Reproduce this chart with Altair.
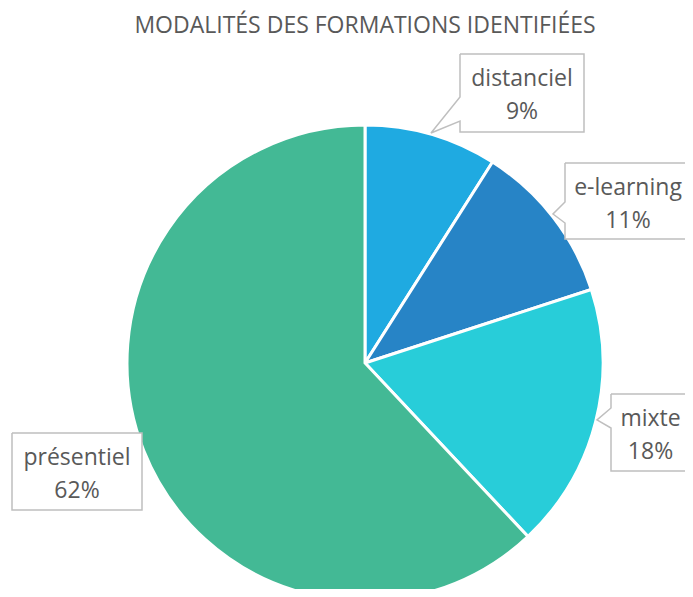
import altair as alt
import pandas as pd

# ---- data ----
categories = ["distanciel", "e-learning", "mixte", "présentiel"]
values = [9, 11, 18, 62]
colors = ["#1FAAE1", "#2784C6", "#28CDD9", "#43B995"]
title_text = "MODALITÉS DES FORMATIONS IDENTIFIÉES"

# ---- layout (chart pixel coordinates) ----
W, H = 677, 581
CX, CY, R = 357, 355, 238
# callout boxes: x0, y0, x1, y1 and pointer (upper base y, tip x, tip y, lower base y) on left edge
boxes = {
    "distanciel": (452, 46, 576, 124, (89, 423, 125, 113)),
    "e-learning": (557, 155, 683, 231, (194, 545, 206, 215)),
    "mixte": (603, 386, 682, 463, (400, 589, 412, 420)),
    "présentiel": (4, 425, 134, 502, None),
}
FONT = "Open Sans"
TXT = "#595959"

pie_df = pd.DataFrame({"cat": categories, "val": values, "ord": range(len(categories))})

pie = alt.Chart(pie_df).mark_arc(radius=R, stroke="white", strokeWidth=3).encode(
    theta=alt.Theta("val:Q", stack=True),
    order=alt.Order("ord:Q"),
    color=alt.Color("cat:N", scale=alt.Scale(domain=categories, range=colors), legend=None),
    x=alt.value(CX),
    y=alt.value(CY),
)

# callout polygons
rows = []
for c in categories:
    x0, y0, x1, y1, p = boxes[c]
    pts = [(x0, y0), (x1, y0), (x1, y1), (x0, y1)]
    if p is not None:
        ub, tx, ty, lb = p
        pts += [(x0, lb), (tx, ty), (x0, ub)]
    pts += [(x0, y0)]
    for i, (px, py) in enumerate(pts):
        rows.append({"cat": c, "i": i, "px": px, "py": py})
poly_df = pd.DataFrame(rows)

xs = alt.Scale(domain=[0, W], range=[0, W])
ys = alt.Scale(domain=[0, H], range=[0, H])

callouts = alt.Chart(poly_df).mark_line(
    fill="white", stroke="#BFBFBF", strokeWidth=1.5, interpolate="linear"
).encode(
    x=alt.X("px:Q", scale=xs, axis=None),
    y=alt.Y("py:Q", scale=ys, axis=None),
    detail="cat:N",
    order="i:Q",
)

total = sum(values)
lab_rows = []
for c, v in zip(categories, values):
    x0, y0, x1, y1, p = boxes[c]
    lab_rows.append({
        "cat": c,
        "lx": (x0 + x1) / 2,
        "ly": y0 + 32,
        "txt": f"{c}\n{round(100 * v / total)}%",
    })
lab_df = pd.DataFrame(lab_rows)

labels = alt.Chart(lab_df).mark_text(
    font=FONT, fontSize=23, color=TXT, lineBreak="\n", lineHeight=33,
    baseline="alphabetic", align="center",
).encode(
    x=alt.X("lx:Q", scale=xs, axis=None),
    y=alt.Y("ly:Q", scale=ys, axis=None),
    text="txt:N",
)

title_df = pd.DataFrame({"t": [title_text], "tx": [357], "ty": [25]})
title = alt.Chart(title_df).mark_text(
    font=FONT, fontSize=23, color=TXT, baseline="alphabetic", align="center"
).encode(
    x=alt.X("tx:Q", scale=xs, axis=None),
    y=alt.Y("ty:Q", scale=ys, axis=None),
    text="t:N",
)

chart = alt.layer(pie, callouts, labels, title).properties(
    width=W, height=H, autosize=alt.AutoSizeParams(type="none"), padding=0
).configure_view(stroke=None).resolve_scale(x="shared", y="shared")

chart.save("out.html", embed_options={"renderer": "svg", "actions": False})
